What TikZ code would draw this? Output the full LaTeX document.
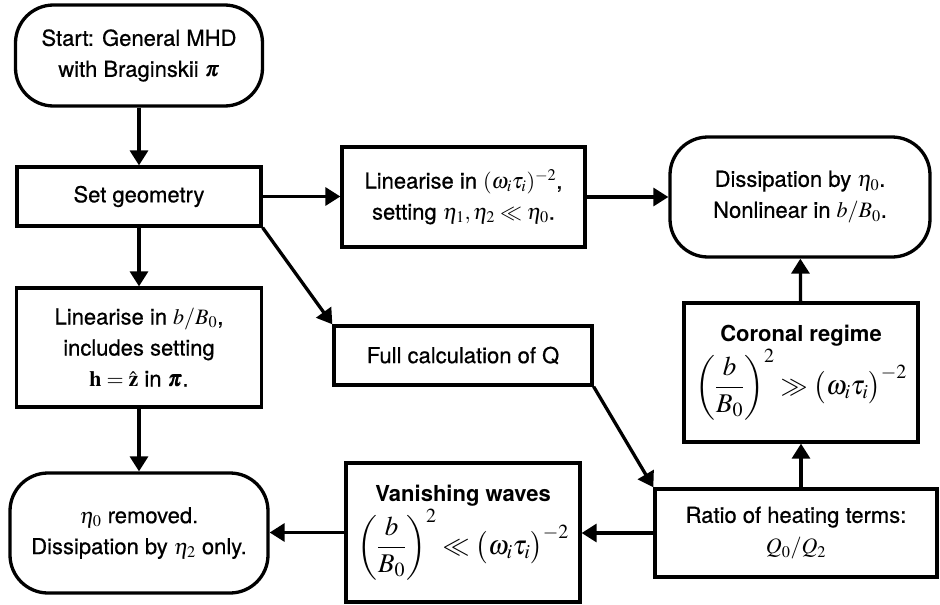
\documentclass[tikz,border=0pt]{standalone}
\usepackage{amsmath}
\usepackage{mathptmx}
\usepackage{bm}
\usepackage[no-math]{fontspec}
\setmainfont[FakeBold=0.6,BoldFeatures={FakeBold=0}]{TeX Gyre Heros}
\usetikzlibrary{arrows.meta}
\tikzset{
  box/.style={draw, line width=3.3pt, rectangle, align=center, inner sep=0pt,
    font=\fontsize{22}{31}\selectfont},
  term/.style={box, rounded corners=38pt},
  arr/.style={line width=3.3pt, -{Triangle[length=15pt,width=18pt]}},
}
\newcommand{\bigformula}[1]{{\fontsize{27}{30}\selectfont$\displaystyle\left(\frac{b}{B_0}\right)^{2}#1\bigl(\omega_i\tau_i\bigr)^{-2}$}}
\begin{document}
\begin{tikzpicture}[x=1pt,y=-1pt]
\useasboundingbox (0,0) rectangle (940,605);
\node[term, minimum width=247pt, minimum height=101pt] (start) at (139,55.5)
  {Start: General MHD\\with Braginskii $\bm{\pi}$};
\node[box, minimum width=244pt, minimum height=59pt] (setgeo) at (139,196.5)
  {Set geometry};
\node[box, minimum width=245pt, minimum height=119pt] (linB) at (139,347.5)
  {Linearise in $b/B_0$,\\includes setting\\$\mathbf{h}=\hat{\mathbf{z}}$ in $\bm{\pi}$.};
\node[term, minimum width=258pt, minimum height=120pt] (removed) at (139,533)
  {$\eta_0$ removed.\\Dissipation by $\eta_2$ only.};
\node[box, minimum width=243pt, minimum height=100pt] (linW) at (463.5,197)
  {Linearise in $(\omega_i\tau_i)^{-2}$,\\setting $\eta_1,\eta_2\ll\eta_0$.};
\node[term, minimum width=260pt, minimum height=120pt] (diss) at (800,197)
  {Dissipation by $\eta_0$.\\Nonlinear in $b/B_0$.};
\node[box, minimum width=258pt, minimum height=59pt] (full) at (463,355.5)
  {Full calculation of Q};
\node[box, minimum width=234pt, minimum height=139pt] (coronal) at (801,372.5)
  {\textbf{Coronal regime}\\[2pt]\bigformula{\gg}};
\node[box, minimum width=282pt, minimum height=88pt] (ratio) at (796,533)
  {Ratio of heating terms:\\$Q_0/Q_2$};
\node[box, minimum width=234pt, minimum height=139pt] (vanish) at (463,532.5)
  {\textbf{Vanishing waves}\\[2pt]\bigformula{\ll}};
\draw[arr] (start) -- (setgeo);
\draw[arr] (setgeo) -- (linB);
\draw[arr] (linB) -- (removed);
\draw[arr] (setgeo.east) -- (linW.west |- setgeo.east);
\draw[arr] (linW.east) -- (diss.west |- linW.east);
\draw[arr] (setgeo.south east) -- (full.north west);
\draw[arr] (full.south east) -- (ratio.north west);
\draw[arr] (ratio.north -| coronal.south) -- (coronal.south);
\draw[arr] (coronal) -- (diss);
\draw[arr] (ratio.west) -- (vanish.east |- ratio.west);
\draw[arr] (vanish.west) -- (removed.east |- vanish.west);
\end{tikzpicture}
\end{document}
